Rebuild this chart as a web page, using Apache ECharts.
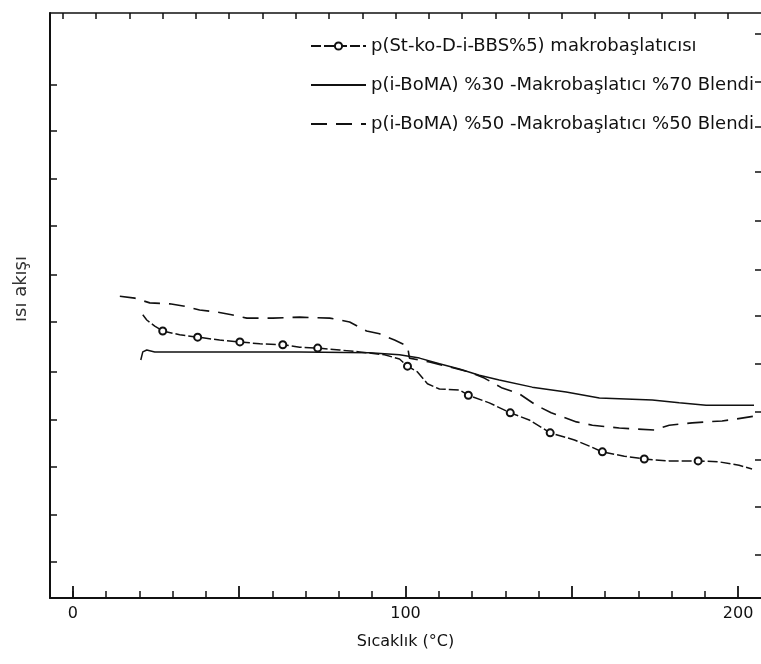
<!DOCTYPE html>
<html>
<head>
<meta charset="utf-8">
<script src="https://cdn.jsdelivr.net/npm/echarts@6/dist/echarts.min.js"></script>
<style>
html,body{margin:0;padding:0;background:#fff;}
#c{width:761px;height:664px;}
</style>
</head>
<body>
<div id="c"></div>
<script>
// ---- data (x: Sıcaklık °C, y: ısı akışı, arbitrary units) ----
const seriesNames = [
  'p(St-ko-D-i-BBS%5) makrobaşlatıcısı',
  'p(i-BoMA) %30 -Makrobaşlatıcı %70 Blendi',
  'p(i-BoMA) %50 -Makrobaşlatıcı %50 Blendi'
];

const macroX = [21.0,22.2,24.6,27.0,32.1,37.5,44.1,50.2,56.2,63.1,68.2,73.6,80.2,86.2,93.7,98.2,100.6,103.6,106.6,110.2,116.2,118.9,125.2,131.5,137.2,143.5,150.8,155.3,159.2,165.8,171.8,179.3,188.0,194.3,200.3,204.2];
const macroY = [5.95,5.84,5.71,5.61,5.53,5.48,5.42,5.38,5.34,5.32,5.27,5.25,5.21,5.17,5.11,5.02,4.87,4.75,4.50,4.39,4.37,4.26,4.10,3.89,3.74,3.47,3.32,3.19,3.07,2.98,2.92,2.88,2.88,2.86,2.79,2.71];
const macroMarked = [0,0,0,1,0,1,0,1,0,1,0,1,0,0,0,0,1,0,0,0,0,1,0,1,0,1,0,0,1,0,1,0,1,0,0,0];

const blend30X = [20.4,21.0,22.2,24.6,38.1,68.2,89.2,98.2,104.2,110.2,116.2,122.2,128.2,138.1,148.3,158.3,174.2,182.3,190.4,204.8];
const blend30Y = [5.00,5.17,5.21,5.17,5.17,5.17,5.15,5.11,5.04,4.92,4.81,4.68,4.58,4.43,4.33,4.20,4.16,4.10,4.05,4.05];

const blend50X = [14.1,18.6,23.1,29.1,33.6,38.1,43.2,47.7,52.3,60.1,68.2,77.2,83.2,88.3,92.2,96.7,100.6,101.2,107.2,112.3,119.2,123.7,129.1,134.2,139.3,143.8,151.4,156.2,164.3,174.8,179.3,186.2,195.2,199.4,204.8];
const blend50Y = [6.34,6.30,6.20,6.18,6.13,6.05,6.01,5.95,5.88,5.88,5.90,5.88,5.80,5.61,5.55,5.42,5.29,5.04,4.96,4.87,4.75,4.62,4.41,4.29,4.05,3.89,3.70,3.63,3.57,3.53,3.63,3.68,3.72,3.76,3.82];

// ---- axis ticks / labels ----
const xLabels = [0, 100, 200];
const xMinorTicks = [0,10,20,30,40,60,70,80,90,110,120,130,140,160,170,180,190];
const xMajorTicks = [0,50,100,150,200];
const xTopTicks = [-3,7,17,27,37,47,57,67,77,87,97,107,117,127,137,147,157,167,177,187,197];
const yLeftTicks = [0.76,1.74,2.75,3.74,4.75,5.80,6.79,7.82,8.80,9.81,10.78];
const yRightTicks = [0.90,1.92,2.90,3.92,4.92,5.92,6.89,7.92,8.95,9.90,10.85,11.85];

const X_MIN = -6.9, X_MAX = 206.9, Y_MIN = 0, Y_MAX = 12.29;

function pairs(xs, ys){ return xs.map((x,i)=>[x, ys[i]]); }

const macroData = macroX.map((x,i)=>({
  value:[x, macroY[i]],
  symbol: macroMarked[i] ? 'emptyCircle' : 'none'
}));

const WFONT = '"DejaVu Sans", "Liberation Sans", Arial, sans-serif';
const INK = '#111';
const HIDE = 'rgba(0,0,0,0)';

const chart = echarts.init(document.getElementById('c'), null, {renderer:'canvas'});
chart.setOption({
  animation:false,
  backgroundColor:'#fff',
  textStyle:{fontFamily:WFONT},
  grid:{left:50, top:13, right:-1, bottom:66, containLabel:false},
  legend:{
    orient:'vertical',
    left:305, top:32,
    itemWidth:55, itemHeight:9, itemGap:21,
    textStyle:{fontFamily:WFONT, fontSize:18, lineHeight:17, color:INK},
    data:[
      {name:seriesNames[0]},
      {name:seriesNames[1], itemStyle:{color:HIDE, borderColor:HIDE, borderWidth:0}},
      {name:seriesNames[2], itemStyle:{color:HIDE, borderColor:HIDE, borderWidth:0}}
    ]
  },
  xAxis:[
    {type:'value', position:'bottom', min:X_MIN, max:X_MAX,
     axisLine:{show:true, onZero:false, lineStyle:{color:INK, width:2}},
     axisTick:{show:true, inside:true, length:7, customValues:xMinorTicks, lineStyle:{color:INK, width:1.5}},
     axisLabel:{show:true, customValues:xLabels, fontSize:16, color:INK, margin:8, fontFamily:WFONT},
     splitLine:{show:false},
     name:'Sıcaklık (°C)', nameLocation:'middle', nameGap:36,
     nameTextStyle:{fontSize:16, color:INK, fontFamily:WFONT}
    },
    {type:'value', position:'bottom', min:X_MIN, max:X_MAX, offset:0,
     axisLine:{show:false, onZero:false},
     axisTick:{show:true, inside:true, length:12, customValues:xMajorTicks, lineStyle:{color:INK, width:1.8}},
     axisLabel:{show:false}, splitLine:{show:false}
    },
    {type:'value', position:'top', min:X_MIN, max:X_MAX,
     axisLine:{show:true, onZero:false, lineStyle:{color:INK, width:1.5}},
     axisTick:{show:true, inside:true, length:6, customValues:xTopTicks, lineStyle:{color:INK, width:1.5}},
     axisLabel:{show:false}, splitLine:{show:false}
    }
  ],
  yAxis:[
    {type:'value', position:'left', min:Y_MIN, max:Y_MAX,
     axisLine:{show:true, onZero:false, lineStyle:{color:INK, width:2}},
     axisTick:{show:true, inside:true, length:7, customValues:yLeftTicks, lineStyle:{color:INK, width:1.5}},
     axisLabel:{show:false}, splitLine:{show:false}
    },
    {type:'value', position:'right', min:Y_MIN, max:Y_MAX,
     axisLine:{show:false, onZero:false},
     axisTick:{show:true, inside:true, length:6, customValues:yRightTicks, lineStyle:{color:INK, width:1.5}},
     axisLabel:{show:false}, splitLine:{show:false}
    }
  ],
  graphic:[
    {type:'text', x:21, y:289, rotation:Math.PI/2,
     style:{text:'ısı akışı', fill:'#333', font:'18px "DejaVu Sans", Arial, sans-serif', align:'center', verticalAlign:'middle'}}
  ],
  series:[
    {name:seriesNames[0], type:'line', xAxisIndex:0, yAxisIndex:0,
     data:macroData, symbol:'emptyCircle', showAllSymbol:true, symbolSize:7, smooth:false,
     lineStyle:{color:INK, width:1.5, type:[10,3]},
     itemStyle:{color:INK, borderColor:INK, borderWidth:1.3},
     emphasis:{disabled:true}
    },
    {name:seriesNames[1], type:'line', xAxisIndex:0, yAxisIndex:0,
     data:pairs(blend30X, blend30Y), showSymbol:false, symbol:'none',
     lineStyle:{color:INK, width:1.5, type:'solid'},
     itemStyle:{color:INK},
     emphasis:{disabled:true}
    },
    {name:seriesNames[2], type:'line', xAxisIndex:0, yAxisIndex:0,
     data:pairs(blend50X, blend50Y), showSymbol:false, symbol:'none',
     lineStyle:{color:INK, width:1.6, type:[16,9]},
     itemStyle:{color:INK},
     emphasis:{disabled:true}
    }
  ]
});
</script>
</body>
</html>
